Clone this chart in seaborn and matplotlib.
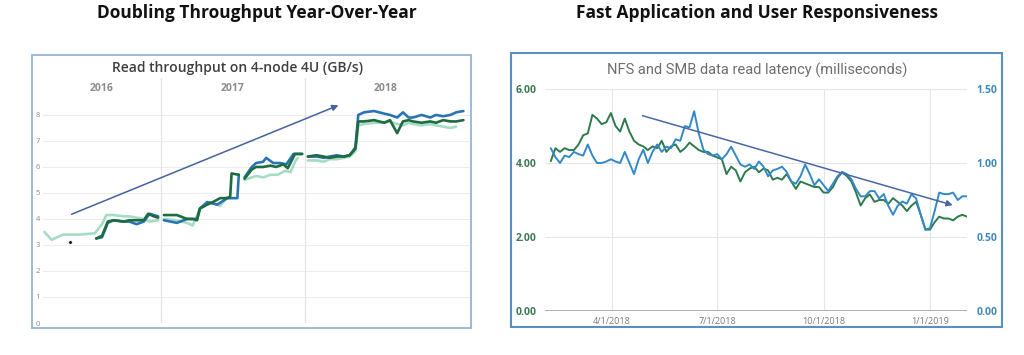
import pandas as pd
import matplotlib.pyplot as plt
import matplotlib.dates as mdates
from matplotlib.patches import Rectangle
import seaborn as sns

sns.set_theme(style="white")
plt.rcParams["font.family"] = ["Open Sans", "DejaVu Sans"]

# --- LEFT: read throughput on 4-node 4U (GB/s), None = gap in the line ---
mint_year = [2016.19, 2016.24, 2016.32, 2016.44, 2016.54, 2016.59, 2016.62, 2016.67, 2016.74, 2016.78,
             2016.83, 2016.88, 2016.92, 2016.98, None,
             2017.02, 2017.11, 2017.18, 2017.22, 2017.27, 2017.34, 2017.41, 2017.46, None,
             2017.58, 2017.63, 2017.66, 2017.71, 2017.76, 2017.81, 2017.86, 2017.90, 2017.93, 2017.95, None,
             2018.02, 2018.08, 2018.13, 2018.17, 2018.22, 2018.27, 2018.31, 2018.35, 2018.37, 2018.41,
             2018.48, 2018.55, 2018.59, 2018.64, 2018.68, 2018.72, 2018.75, 2018.81, 2018.87, 2018.91,
             2018.96, 2019.01, 2019.05]
mint_gbs = [3.5, 3.2, 3.4, 3.4, 3.45, 3.8, 4.15, 4.15, 4.1, 4.1,
            4.05, 4.0, 3.9, 3.95, None,
            4.0, 3.95, 3.85, 3.75, 4.4, 4.65, 4.5, 4.85, None,
            5.5, 5.6, 5.65, 5.6, 5.7, 5.7, 5.85, 5.8, 6.2, 6.35, None,
            6.25, 6.25, 6.2, 6.3, 6.3, 6.35, 6.4, 6.6, 7.6, 7.65,
            7.7, 7.7, 7.75, 7.65, 7.6, 7.7, 7.65, 7.6, 7.65, 7.6,
            7.55, 7.5, 7.55]

green_year = [2016.55, 2016.59, 2016.63, 2016.67, 2016.74, 2016.78, 2016.83, 2016.88, 2016.91, 2016.95,
              2016.98, None,
              2017.02, 2017.11, 2017.18, 2017.22, 2017.25, 2017.27, 2017.32, 2017.36, 2017.41, 2017.46,
              2017.48, 2017.49, 2017.54, None,
              2017.58, 2017.63, 2017.66, 2017.71, 2017.76, 2017.80, 2017.85, 2017.88, 2017.93, 2017.98, None,
              2018.02, 2018.08, 2018.13, 2018.17, 2018.22, 2018.27, 2018.31, 2018.35, 2018.37, 2018.41,
              2018.48, 2018.55, 2018.59, 2018.64, 2018.68, 2018.72, 2018.75, 2018.81, 2018.87, 2018.91,
              2018.96, 2019.01, 2019.05, 2019.10]
green_gbs = [3.25, 3.35, 3.9, 3.95, 3.9, 3.95, 3.95, 3.95, 4.2, 4.1,
             4.05, None,
             4.15, 4.15, 4.0, 4.0, 3.95, 4.4, 4.55, 4.65, 4.8, 4.8,
             4.85, 5.75, 5.7, None,
             5.55, 5.9, 6.0, 6.0, 6.05, 6.0, 6.1, 5.95, 6.5, 6.5, None,
             6.4, 6.45, 6.4, 6.35, 6.4, 6.4, 6.45, 6.7, 7.75, 7.75,
             7.8, 7.7, 7.8, 7.3, 7.75, 7.8, 7.75, 7.7, 7.75, 7.7,
             7.8, 7.75, 7.75, 7.8]

blue_year = [2016.55, 2016.59, 2016.63, 2016.67, 2016.74, 2016.78, 2016.83, 2016.88, 2016.92, 2016.98, None,
             2017.02, 2017.11, 2017.18, 2017.25, 2017.27, 2017.32, 2017.39, 2017.46, 2017.53, 2017.54, None,
             2017.58, 2017.63, 2017.66, 2017.71, 2017.73, 2017.78, 2017.83, 2017.87, 2017.92, 2017.98, None,
             2018.02, 2018.08, 2018.13, 2018.17, 2018.22, 2018.27, 2018.31, 2018.35, 2018.37, 2018.41,
             2018.48, 2018.55, 2018.59, 2018.64, 2018.68, 2018.72, 2018.75, 2018.81, 2018.87, 2018.91,
             2018.96, 2019.01, 2019.05, 2019.10]
blue_gbs = [3.25, 3.3, 3.85, 3.95, 3.9, 3.9, 3.8, 3.9, 4.2, 4.1, None,
            3.95, 3.85, 4.0, 4.0, 4.4, 4.65, 4.55, 4.8, 4.8, 5.7, None,
            5.6, 6.0, 6.15, 6.2, 6.35, 6.15, 6.15, 6.1, 6.5, 6.5, None,
            6.4, 6.4, 6.35, 6.4, 6.45, 6.4, 6.45, 6.75, 8.0, 8.1,
            8.15, 8.05, 8.0, 7.9, 8.1, 7.9, 7.9, 8.0, 7.9, 8.0,
            7.95, 8.0, 8.1, 8.15]

dot_year, dot_gbs = [2016.37], [3.1]
year_labels = ["2016", "2017", "2018"]
year_label_pos = [2016.59, 2017.5, 2018.56]

# --- RIGHT: NFS / SMB read latency, one sample every 4 days ---
lat_start = "2018-02-07"
nfs_ms = [4.05, 4.4, 4.3, 4.4, 4.35, 4.35, 4.5, 4.75, 4.8, 5.3,
          5.2, 5.05, 5.1, 5.35, 5.0, 4.85, 5.2, 4.85, 4.6, 4.5,
          4.45, 4.35, 4.45, 4.4, 4.6, 4.3, 4.45, 4.5, 4.3, 4.4,
          4.55, 4.45, 4.35, 4.3, 4.3, 4.2, 4.15, 4.1, 3.7, 3.9,
          3.8, 3.5, 3.75, 3.85, 3.9, 3.75, 3.85, 3.8, 3.55, 3.6,
          3.55, 3.7, 3.5, 3.3, 3.5, 3.45, 3.4, 3.35, 3.35, 3.2,
          3.2, 3.35, 3.6, 3.75, 3.65, 3.5, 3.2, 2.85, 3.05, 3.15,
          2.95, 3.0, 3.0, 2.9, 3.05, 2.95, 2.85, 2.7, 2.85, 2.95,
          2.6, 2.2, 2.2, 2.4, 2.55, 2.5, 2.5, 2.45, 2.55, 2.6,
          2.55]
smb_ms = [1.10, 1.04, 1.00, 1.05, 1.04, 1.075, 1.06, 1.05, 1.125, 1.05,
          1.00, 1.00, 1.01, 1.025, 1.01, 1.00, 1.075, 1.00, 0.925, 1.025,
          1.09, 1.00, 1.075, 1.125, 1.075, 1.11, 1.10, 1.16, 1.15, 1.25,
          1.24, 1.35, 1.20, 1.09, 1.06, 1.05, 1.06, 1.025, 1.06, 1.11,
          1.05, 0.99, 0.975, 0.99, 0.96, 1.01, 0.975, 0.91, 0.95, 0.96,
          0.975, 0.94, 0.875, 0.86, 0.91, 0.99, 0.925, 0.85, 0.89, 0.85,
          0.81, 0.86, 0.91, 0.94, 0.925, 0.89, 0.825, 0.775, 0.775, 0.81,
          0.81, 0.76, 0.79, 0.71, 0.65, 0.71, 0.74, 0.725, 0.79, 0.76,
          0.65, 0.55, 0.56, 0.675, 0.80, 0.79, 0.79, 0.80, 0.75, 0.775,
          0.775]
date_ticks = ["2018-04-01", "2018-07-01", "2018-10-01", "2019-01-01"]
date_tick_labels = ["4/1/2018", "7/1/2018", "10/1/2018", "1/1/2019"]


def segments(years, vals):
    df = pd.DataFrame({"year": years, "gbs": vals}, dtype=float)
    df["seg"] = df["gbs"].isna().cumsum()
    return df.dropna()


W, H = 1024, 355
fig = plt.figure(figsize=(W / 100, H / 100), dpi=100)

# ---------------- left chart ----------------
ax = fig.add_axes([43 / W, 1 - 323 / H, 427 / W, 245 / H])
ax.set_xlim(2016.18, 2019.146)
ax.set_ylim(0, 9.42)
ax.set_yticks(range(0, 9))
ax.set_xticks([])
ax.grid(axis="y", color="#ededed", lw=0.8)
for s in ax.spines.values():
    s.set_visible(False)
ax.tick_params(axis="y", length=0, pad=2, labelsize=5.5, labelcolor="#8a8a8a")
for yr in [2017, 2018]:
    ax.axvline(yr, color="#e4e4e4", lw=0.9)
for lab, pos in zip(year_labels, year_label_pos):
    ax.text(pos, 9.0, lab, ha="center", va="center", color="#8c8c8c",
            fontsize=7.5, fontweight="bold")

for years, vals, col in [(mint_year, mint_gbs, "#a6dcc4"),
                         (blue_year, blue_gbs, "#2a74b6"),
                         (green_year, green_gbs, "#1f6b40")]:
    sns.lineplot(data=segments(years, vals), x="year", y="gbs", units="seg",
                 estimator=None, color=col, lw=1.9, ax=ax)
sns.scatterplot(x=dot_year, y=dot_gbs, color="#222222", s=6, ax=ax, zorder=5)
ax.annotate("", xy=(2018.25, 8.41), xytext=(2016.36, 4.14),
            arrowprops=dict(arrowstyle="-|>", color="#46619e", lw=1.1,
                            mutation_scale=9))
ax.set_xlabel("")
ax.set_ylabel("")

# ---------------- right chart ----------------
lat_dates = pd.date_range(lat_start, periods=len(nfs_ms), freq="4D")
ax3 = fig.add_axes([545 / W, 1 - 311 / H, 422 / W, 222 / H])
ax3.set_ylim(0, 6)
ax3.set_xlim(pd.Timestamp("2018-02-02"), pd.Timestamp("2019-02-02"))
ax3.set_yticks([0, 2, 4, 6])
ax3.set_yticklabels([f"{v:.2f}" for v in [0, 2, 4, 6]])
ax3.grid(True, color="#e6e6e6", lw=0.8)
ax3.axhline(0, color="#9a9a9a", lw=1.1)
for s in ax3.spines.values():
    s.set_visible(False)
ax3.tick_params(axis="y", length=0, pad=6, labelsize=7.5, labelcolor="#3b7a55")
ax3.tick_params(axis="x", length=0, pad=4, labelsize=6.5, labelcolor="#7a7a7a")
for t in ax3.get_yticklabels():
    t.set_fontweight("bold")
sns.lineplot(x=lat_dates, y=nfs_ms, color="#2d7a4c", lw=1.4, ax=ax3)

ax4 = ax3.twinx()
ax4.set_ylim(0, 1.5)
ax4.set_yticks([0, 0.5, 1.0, 1.5])
ax4.set_yticklabels([f"{v:.2f}" for v in [0, 0.5, 1.0, 1.5]])
for s in ax4.spines.values():
    s.set_visible(False)
ax4.tick_params(axis="y", length=0, pad=7, labelsize=7.5, labelcolor="#3f88bd")
for t in ax4.get_yticklabels():
    t.set_fontweight("bold")
sns.lineplot(x=lat_dates, y=smb_ms, color="#3389c6", lw=1.4, ax=ax4)
ax4.annotate("", xy=(pd.Timestamp("2019-01-23"), 0.71),
             xytext=(pd.Timestamp("2018-04-25"), 1.325),
             arrowprops=dict(arrowstyle="-|>", color="#4a66a8", lw=1.1,
                             mutation_scale=9))
ax3.set_xlabel("")
ax3.set_ylabel("")
ax4.set_ylabel("")
ax3.set_xticks(pd.to_datetime(date_ticks))
ax3.set_xticklabels(date_tick_labels)

# ---------------- frames and titles ----------------
fig.patches.append(Rectangle((32 / W, 1 - 328 / H), 439 / W, 273 / H, transform=fig.transFigure,
                             fill=False, ec="#94b4d4", lw=1.3))
fig.patches.append(Rectangle((511 / W, 1 - 327 / H), 491 / W, 274 / H, transform=fig.transFigure,
                             fill=False, ec="#5b8ec2", lw=1.5))
fig.text(257 / W, 1 - 13 / H, "Doubling Throughput Year-Over-Year", ha="center", va="center",
         fontsize=12.5, fontweight="bold", color="#111111")
fig.text(757 / W, 1 - 13 / H, "Fast Application and User Responsiveness", ha="center", va="center",
         fontsize=12.5, fontweight="bold", color="#111111")
fig.text(237 / W, 1 - 68 / H, "Read throughput on 4-node 4U (GB/s)", ha="center", va="center",
         fontsize=10, color="#3e3e3e", fontweight=600)
fig.text(757 / W, 1 - 70 / H, "NFS and SMB data read latency (milliseconds)", ha="center", va="center",
         fontsize=10.5, color="#6e6e6e", family=["Roboto", "DejaVu Sans"])

fig.savefig("out.png", dpi=100)
